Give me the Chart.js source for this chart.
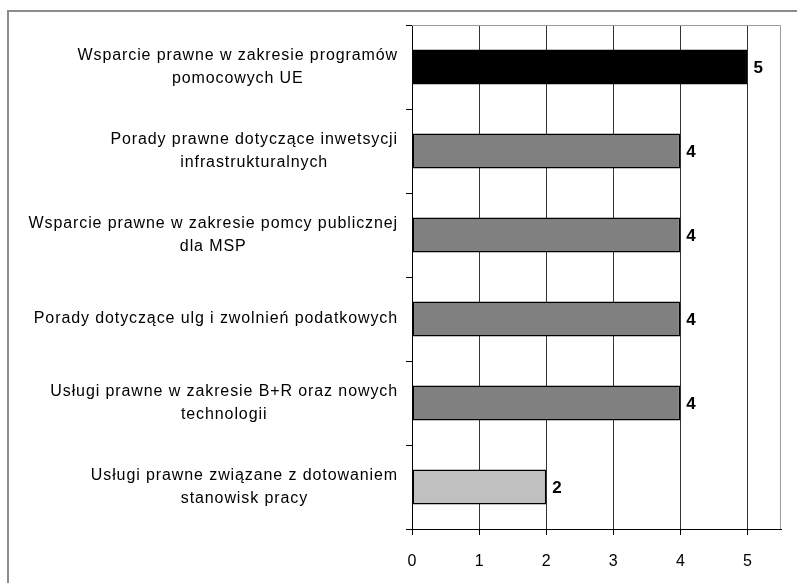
<!DOCTYPE html>
<html>
<head>
<meta charset="utf-8">
<script src="https://cdn.jsdelivr.net/npm/chart.js@4/dist/chart.umd.min.js"></script>
<style>
  html, body { margin: 0; padding: 0; background: #ffffff; }
  #wrap { width: 797px; height: 583px; position: relative; }
</style>
</head>
<body>
<div id="wrap"><canvas id="chart" width="797" height="583"></canvas></div>
<script>
// Service categories (each entry is a list of label lines)
const categories = [
  ["Wsparcie prawne w zakresie programów", "pomocowych UE"],
  ["Porady prawne dotyczące inwetsycji", "infrastrukturalnych"],
  ["Wsparcie prawne w zakresie pomcy publicznej", "dla MSP"],
  ["Porady dotyczące ulg i zwolnień podatkowych"],
  ["Usługi prawne w zakresie B+R oraz nowych", "technologii"],
  ["Usługi prawne związane z dotowaniem", "stanowisk pracy"]
];
const values = [5, 4, 4, 4, 4, 2];
const barColors = ["#000000", "#808080", "#808080", "#808080", "#808080", "#c0c0c0"];
const xTicks = [0, 1, 2, 3, 4, 5];
const xMax = 5.5;

const FONT = "'Liberation Sans', Arial, sans-serif";

// Frame around the whole figure plus the light top/right edges of the plot area
const framePlugin = {
  id: 'frame',
  beforeDraw(chart) {
    const ctx = chart.ctx;
    ctx.save();
    ctx.strokeStyle = '#8c8c8c';
    ctx.lineWidth = 2;
    ctx.beginPath();
    ctx.moveTo(8, 800);
    ctx.lineTo(8, 11);
    ctx.lineTo(800, 11);
    ctx.stroke();
    ctx.restore();
  },
  afterDatasetsDraw(chart) {
    const ctx = chart.ctx;
    const a = chart.chartArea;
    ctx.save();
    ctx.strokeStyle = '#9a9a9a';
    ctx.lineWidth = 1;
    ctx.beginPath();
    ctx.moveTo(a.left, a.top + 0.5);
    ctx.lineTo(a.right - 0.5, a.top + 0.5);
    ctx.lineTo(a.right - 0.5, a.bottom);
    ctx.stroke();
    ctx.restore();
  }
};

// Category labels: each block right-aligned to the axis, its lines centred within the block
const categoryLabelPlugin = {
  id: 'categoryLabels',
  afterDraw(chart) {
    const ctx = chart.ctx;
    const yScale = chart.scales.y;
    const rightEdge = yScale.right - 14;
    const lineHeight = 23;
    ctx.save();
    ctx.font = '16px ' + FONT;
    ctx.letterSpacing = '0.9px';
    ctx.fillStyle = '#000000';
    ctx.textAlign = 'center';
    ctx.textBaseline = 'middle';
    categories.forEach((lines, i) => {
      const cy = yScale.getPixelForValue(i);
      const widest = Math.max(...lines.map(l => ctx.measureText(l).width));
      const cx = rightEdge - widest / 2;
      const top = cy - (lines.length - 1) * lineHeight / 2;
      lines.forEach((line, j) => ctx.fillText(line, cx, top + j * lineHeight));
    });
    ctx.restore();
  }
};

// Value labels at the end of each bar
const valueLabelPlugin = {
  id: 'valueLabels',
  afterDatasetsDraw(chart) {
    const ctx = chart.ctx;
    const meta = chart.getDatasetMeta(0);
    ctx.save();
    ctx.font = 'bold 17px ' + FONT;
    ctx.fillStyle = '#000000';
    ctx.textAlign = 'left';
    ctx.textBaseline = 'middle';
    meta.data.forEach((bar, i) => {
      ctx.fillText(String(values[i]), bar.x + 6, bar.y + 1);
    });
    ctx.restore();
  }
};

new Chart(document.getElementById('chart'), {
  type: 'bar',
  data: {
    labels: categories,
    datasets: [{
      data: values,
      backgroundColor: barColors,
      borderColor: '#000000',
      borderWidth: 1.5,
      borderSkipped: false,
      categoryPercentage: 1,
      barPercentage: 0.415
    }]
  },
  options: {
    indexAxis: 'y',
    responsive: false,
    animation: false,
    devicePixelRatio: 1,
    layout: { padding: { left: 0, top: 25, right: 16, bottom: 0 } },
    plugins: {
      legend: { display: false },
      tooltip: { enabled: false }
    },
    scales: {
      x: {
        type: 'linear',
        min: 0,
        max: xMax,
        afterBuildTicks(scale) {
          scale.ticks = xTicks.map(v => ({ value: v }));
        },
        afterFit(scale) { scale.height = 54; },
        grid: {
          color: '#333333',
          lineWidth: 1,
          drawTicks: true,
          tickLength: 6,
          tickColor: '#000000'
        },
        border: { color: '#000000', width: 1 },
        ticks: {
          color: '#000000',
          font: { family: FONT, size: 16 },
          padding: 17
        }
      },
      y: {
        type: 'category',
        afterFit(scale) { scale.width = 412; },
        grid: {
          offset: true,
          drawOnChartArea: false,
          drawTicks: true,
          tickLength: 6,
          tickColor: '#000000'
        },
        border: { color: '#000000', width: 1 },
        ticks: { display: false }
      }
    }
  },
  plugins: [framePlugin, categoryLabelPlugin, valueLabelPlugin]
});
</script>
</body>
</html>
